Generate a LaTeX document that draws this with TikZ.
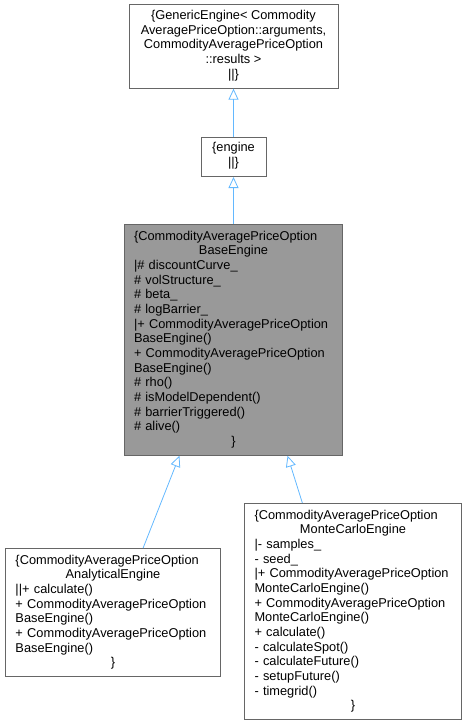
\documentclass[tikz,border=0pt]{standalone}
\usepackage{fontspec}
\setmainfont{Liberation Sans}
\usetikzlibrary{arrows.meta, positioning}
\definecolor{edgeblue}{HTML}{63B8FF}
\definecolor{boxline}{HTML}{666666}
\definecolor{basefill}{HTML}{999999}
\newcommand{\ctrline}[1]{\hspace*{\fill}#1\hspace*{\fill}\mbox{}}

\begin{document}
\begin{tikzpicture}[x=1pt, y=-1pt, font=\fontsize{12.8}{14.65}\selectfont,
  classbox/.style={draw=boxline, fill=white, line width=1pt, inner xsep=9.5pt, inner ysep=5.5pt,
    execute at begin node=\strut, execute at end node=\strut},
  membox/.style={classbox, align=left, anchor=north west},
  inherits/.style={draw=edgeblue, line width=0.8pt, -{Triangle[open, length=11pt, width=10pt]}}]
\useasboundingbox (0,0) rectangle (467,725);
\node[membox, fill=basefill, text width=199pt] (base) at (124,224) {\{CommodityAveragePriceOption\\
\ctrline{BaseEngine}\\
|\# discountCurve\_\\
\# volStructure\_\\
\# beta\_\\
\# logBarrier\_\\
|+ CommodityAveragePriceOption\\
BaseEngine()\\
+ CommodityAveragePriceOption\\
BaseEngine()\\
\# rho()\\
\# isModelDependent()\\
\# barrierTriggered()\\
\# alive()\\
\ctrline{\}}};
\node[classbox, align=center, minimum width=65pt, above=47pt of base] (engine) {\{engine\\||\}};
\node[classbox, align=center, minimum width=209pt, above=48pt of engine] (generic) {\{GenericEngine< Commodity\\
AveragePriceOption::arguments,\\
CommodityAveragePriceOption\\
::results >\\
||\}};
\node[membox, inner xsep=10pt, text width=195pt] (ana) at (5,548) {\{CommodityAveragePriceOption\\
\ctrline{AnalyticalEngine}\\
||+ calculate()\\
+ CommodityAveragePriceOption\\
BaseEngine()\\
+ CommodityAveragePriceOption\\
BaseEngine()\\
\ctrline{\}}};
\node[membox, inner xsep=10pt, text width=197pt] (mc) at (244,503) {\{CommodityAveragePriceOption\\
\ctrline{MonteCarloEngine}\\
|- samples\_\\
- seed\_\\
|+ CommodityAveragePriceOption\\
MonteCarloEngine()\\
+ CommodityAveragePriceOption\\
MonteCarloEngine()\\
+ calculate()\\
- calculateSpot()\\
- calculateFuture()\\
- setupFuture()\\
- timegrid()\\
\ctrline{\}}};
\draw[inherits] (engine) -- (generic);
\draw[inherits] (base) -- (engine);
\draw[inherits] (ana.65) -- (base.245);
\draw[inherits] (mc.115) -- (base.295);
\end{tikzpicture}
\end{document}
